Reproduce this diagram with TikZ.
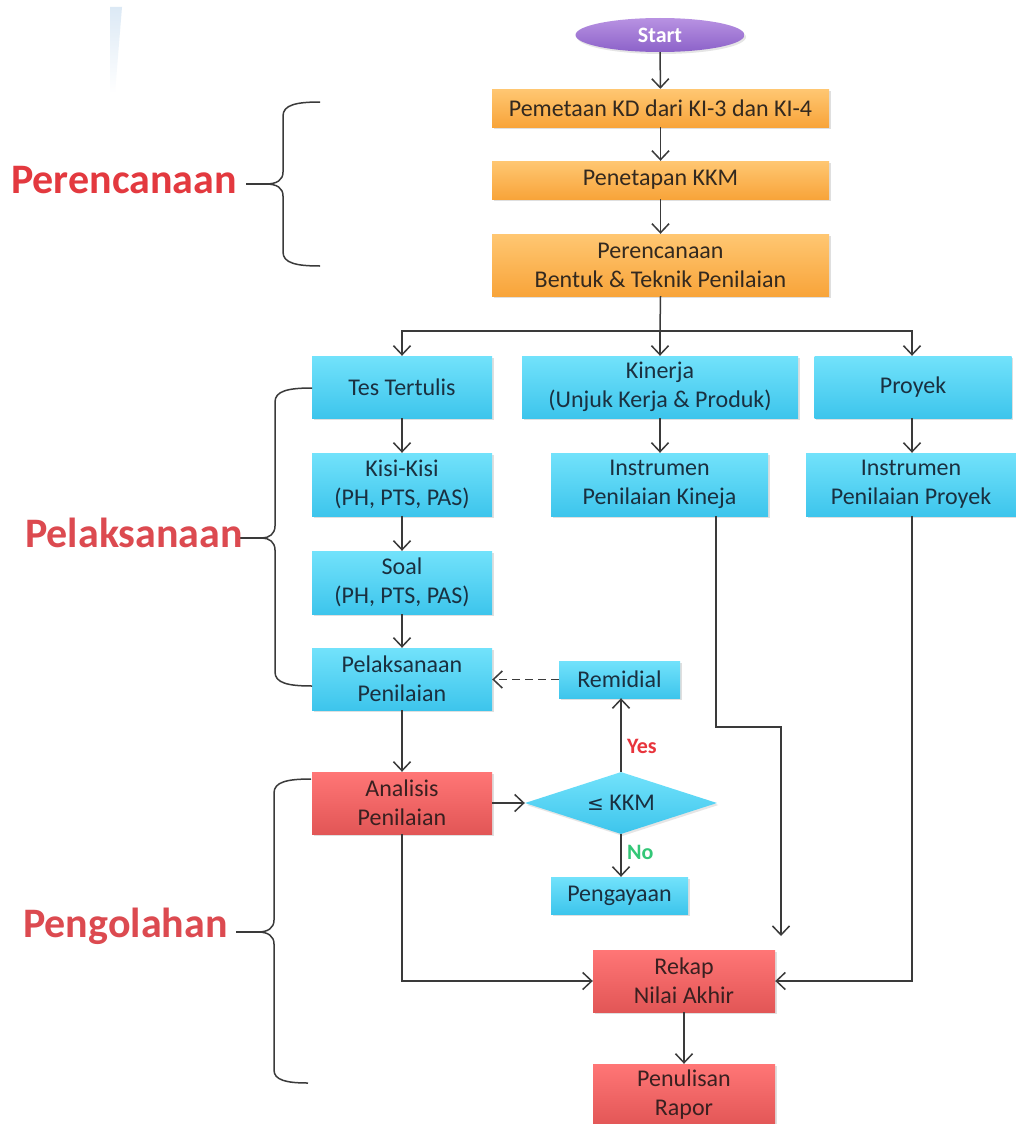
\documentclass[tikz,border=0pt]{standalone}
\usepackage{fontspec}
\setmainfont{Carlito}
\newfontfamily\symfont{DejaVu Sans}
\usetikzlibrary{arrows.meta,shapes.geometric,shadows,calc}

\definecolor{lineC}{HTML}{3A3A3A}
\definecolor{orT}{HTML}{FFC772}
\definecolor{orB}{HTML}{F8A43A}
\definecolor{cyT}{HTML}{72E2FB}
\definecolor{cyB}{HTML}{3DC5EC}
\definecolor{rdT}{HTML}{FF7676}
\definecolor{rdB}{HTML}{E25656}
\definecolor{puT}{HTML}{B892E2}
\definecolor{puB}{HTML}{8C62C9}
\definecolor{txtO}{HTML}{33291F}
\definecolor{txtC}{HTML}{1A3040}
\definecolor{txtR}{HTML}{3A2020}
\definecolor{secR}{HTML}{E3393F}
\definecolor{secR2}{HTML}{DC4A50}
\definecolor{yesC}{HTML}{E8343C}
\definecolor{noC}{HTML}{33C777}
\definecolor{streak}{HTML}{DCE9F5}

\tikzset{
  every node/.style={font=\fontsize{24}{29}\selectfont, align=center, inner sep=0pt},
  sz/.style 2 args={minimum width=#1pt, minimum height=#2pt},
  flowbox/.style={rectangle, drop shadow={opacity=0.25, shadow xshift=1.5pt, shadow yshift=-2pt}},
  orbox/.style={flowbox, top color=orT, bottom color=orB, text=txtO},
  cybox/.style={flowbox, top color=cyT, bottom color=cyB, text=txtC},
  rdbox/.style={flowbox, top color=rdT, bottom color=rdB, text=txtR},
  arr/.style={draw=lineC, line width=1.5pt, -{Straight Barb[length=9pt,width=17pt]}},
  conn/.style={draw=lineC, line width=1.5pt},
  brace/.style={draw=lineC, line width=1.5pt},
  section/.style={font=\fontsize{42}{42}\selectfont\bfseries, anchor=base west},
}

\begin{document}
\begin{tikzpicture}[x=1pt,y=-1pt]
\useasboundingbox[fill=white] (0,0) rectangle (1015,1124);

% faint streak in the upper left corner
\shade[top color=streak, bottom color=white] (110,7) -- (122,7) -- (115,93) -- (110,93) -- cycle;

% planning stage
\node[ellipse, sz={169}{34}, top color=puT, bottom color=puB, text=white,
      font=\fontsize{22}{26}\selectfont\bfseries,
      drop shadow={opacity=0.2, shadow xshift=1.5pt, shadow yshift=-2pt}] (start) at (660,35) {Start};
\node[orbox, sz={337}{38}] (b1) at (660.5,108) {Pemetaan KD dari KI-3 dan KI-4};
\node[orbox, sz={337}{38}] (b2) at (660.5,180) {Penetapan KKM};
\node[orbox, sz={337}{62}] (b3) at (660.5,265) {Perencanaan\\Bentuk \& Teknik Penilaian};

% assessment techniques
\node[cybox, sz={180}{62}] (tes)  at (402,387) {Tes Tertulis};
\node[cybox, sz={276}{62}] (kin)  at (660,387) {Kinerja\\(Unjuk Kerja \& Produk)};
\node[cybox, sz={197}{62}] (proy) at (913,387) {Proyek};

\node[cybox, sz={180}{63}] (kisi) at (402,484.5) {Kisi-Kisi\\(PH, PTS, PAS)};
\node[cybox, sz={217}{63}] (ik)   at (659.5,484.5) {Instrumen\\Penilaian Kineja};
\node[cybox, sz={210}{63}] (ip)   at (911,484.5) {Instrumen\\Penilaian Proyek};

\node[cybox, sz={180}{63}] (soal) at (402,582.5) {Soal\\(PH, PTS, PAS)};
\node[cybox, sz={180}{62}] (pp)   at (402,679) {Pelaksanaan\\Penilaian};
\node[cybox, sz={121}{37}] (rem)  at (619.5,679.5) {Remidial};

% processing stage
\node[rdbox, sz={180}{62}] (ana) at (402,803) {Analisis\\Penilaian};
\node[diamond, aspect=3.1, sz={192}{62}, top color=cyT, bottom color=cyB, text=txtC,
      drop shadow={opacity=0.2, shadow xshift=1.5pt, shadow yshift=-2pt}] (dia) at (621,803) {{\symfont\fontsize{20}{24}\selectfont ≤} KKM};
\node[cybox, sz={137}{37}] (peng) at (619.5,895.5) {Pengayaan};
\node[rdbox, sz={182}{62}] (rek) at (684,981) {Rekap\\Nilai Akhir};
\node[rdbox, sz={182}{62}] (rap) at (684,1095) {Penulisan\\Rapor};

% connectors
\draw[arr] (start) -- (b1);
\draw[arr] (b1) -- (b2);
\draw[arr] (b2) -- (b3);
\coordinate (split) at (660,331);
\draw[conn] (b3.south) -- (split);
\draw[arr] (split) -| (tes.north);
\draw[arr] (split) -- (kin.north);
\draw[arr] (split) -| ([xshift=-1pt]proy.north);

\draw[arr] (tes) -- (kisi);
\draw[arr] (kisi) -- (soal);
\draw[arr] (soal) -- (pp);
\draw[arr] (pp) -- (ana);
\draw[arr] (kin.south) -- (kin.south |- ik.north);
\draw[arr] ([xshift=-1pt]proy.south) -- ([xshift=-1pt]proy.south |- ip.north);

\coordinate (kbend) at (781,727);
\coordinate (kend) at (781,936);
\draw[arr] ([xshift=56.5pt]ik.south) |- (kbend) -- (kend);
\draw[arr] ([xshift=1pt]ip.south) |- (rek.east);
\draw[arr] (ana.south) |- (rek.west);
\draw[arr] (ana.east) -- (dia.west);
\draw[arr] (dia.north) -- (dia.north |- rem.south);
\draw[arr] (dia.south) -- (dia.south |- peng.north);
\draw[arr, dashed, dash pattern=on 8pt off 5pt] (rem.west) -- (rem.west -| pp.east);
\draw[arr] (rek) -- (rap);

\node[font=\fontsize{22}{26}\selectfont\bfseries, text=yesC, anchor=base west] (yes) at (627,753) {Yes};
\node[font=\fontsize{22}{26}\selectfont\bfseries, text=noC, anchor=base west] (no) at (627,859) {No};

% braces grouping the stages
\draw[brace] (320,102) .. controls (296,102) and (283,105) .. (283,116) -- (283,172)
  .. controls (283,180) and (277,184) .. (266,184)
  .. controls (277,184) and (283,188) .. (283,196) -- (283,252)
  .. controls (283,263) and (296,266) .. (320,266);
\draw[brace] (246,184) -- (266,184);

\draw[brace] (312,388) .. controls (288,388) and (275,391) .. (275,402) -- (275,526)
  .. controls (275,534) and (269,538) .. (262,538)
  .. controls (269,538) and (275,542) .. (275,550) -- (275,672)
  .. controls (275,683) and (288,686) .. (312,686);
\draw[brace] (240,538) -- (262,538);

\draw[brace] (311,779) .. controls (287,779) and (274,782) .. (274,793) -- (274,920)
  .. controls (274,928) and (268,932) .. (258,932)
  .. controls (268,932) and (274,936) .. (274,944) -- (274,1070)
  .. controls (274,1080) and (286,1083) .. (308,1083);
\draw[brace] (236,932) -- (258,932);

% stage labels
\node[section, text=secR]  (lplan) at (11,193) {Perencanaan};
\node[section, text=secR2] (lexec) at (25,547) {Pelaksanaan};
\node[section, text=secR2] (lproc) at (23,937) {Pengolahan};
\end{tikzpicture}
\end{document}
